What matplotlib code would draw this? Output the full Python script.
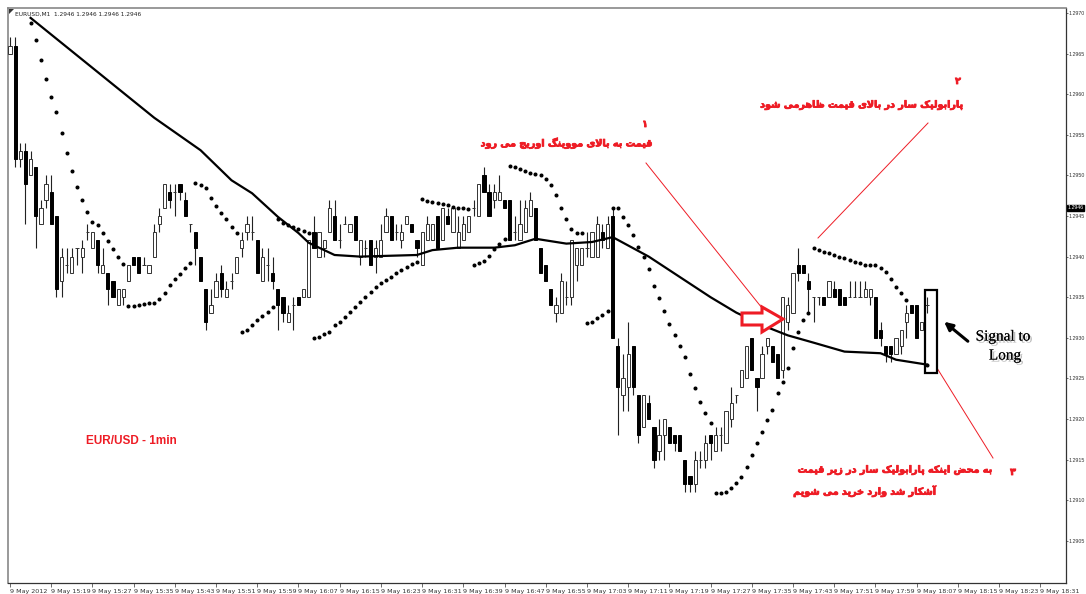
import numpy as np
import matplotlib
matplotlib.use("Agg")
import matplotlib.pyplot as plt
from matplotlib import patheffects as pe
from matplotlib.lines import Line2D
from matplotlib.patches import Polygon, Rectangle

nan = float("nan")

# EURUSD M1 candles, 9 May 2012 from 15:11 (one per minute)
opens = [
    1.2965, 1.2966, 1.2952, 1.2953, 1.2950, 1.2951, 1.2944, 1.2947, 1.2948, 1.2945,
    1.2937, 1.2939, 1.2938, 1.2941, 1.2940, 1.2943, 1.2941, 1.2942, 1.2938, 1.2938,
    1.2937, 1.2934, 1.2935, 1.2937, 1.2940, 1.2940, 1.2939, 1.2938, 1.2940, 1.2944,
    1.2946, 1.2948, 1.2948, 1.2949, 1.2947, 1.2944, 1.2943, 1.2940, 1.2936, 1.2933,
    1.2935, 1.2938, 1.2935, 1.2937, 1.2938, 1.2941, 1.2943, 1.2943, 1.2942, 1.2937,
    1.2939, 1.2938, 1.2936, 1.2935, 1.2932, 1.2934, 1.2935, 1.2935, 1.2935, 1.2943,
    1.2940, 1.2941, 1.2943, 1.2945, 1.2942, 1.2944, 1.2943, 1.2945, 1.2940, 1.2941,
    1.2942, 1.2940, 1.2940, 1.2943, 1.2945, 1.2943, 1.2942, 1.2944, 1.2944, 1.2942,
    1.2939, 1.2942, 1.2942, 1.2945, 1.2942, 1.2945, 1.2943, 1.2941, 1.2942, 1.2943,
    1.2946, 1.2945, 1.2950, 1.2948, 1.2947, 1.2947, 1.2947, 1.2947, 1.2943, 1.2942,
    1.2943, 1.2945, 1.2946, 1.2941, 1.2939, 1.2936, 1.2933, 1.2933, 1.2935, 1.2935,
    1.2939, 1.2939, 1.2941, 1.2940, 1.2940, 1.2943, 1.2941, 1.2945, 1.2929, 1.2923,
    1.2924, 1.2929, 1.2923, 1.2919, 1.2922, 1.2919, 1.2916, 1.2918, 1.2919, 1.2918,
    1.2918, 1.2915, 1.2913, 1.2912, 1.2915, 1.2915, 1.2918, 1.2916, 1.2918, 1.2917,
    1.2920, 1.2923, 1.2924, 1.2925, 1.2930, 1.2925, 1.2925, 1.2929, 1.2929, 1.2928,
    1.2926, 1.2932, 1.2933, 1.2939, 1.2939, 1.2937, 1.2935, 1.2935, 1.2935, 1.2935,
    1.2936, 1.2936, 1.2935, 1.2935, 1.2935, 1.2935, 1.2935, 1.2935, 1.2935, 1.2931,
    1.2929, 1.2929, 1.2928, 1.2929, 1.2932, 1.2934, 1.2934, 1.2931, 1.2934,
]
highs = [
    1.2967, 1.2967, 1.2954, 1.2954, 1.2953, 1.2951, 1.2947, 1.2950, 1.2950, 1.2945,
    1.2941, 1.2941, 1.2941, 1.2941, 1.2942, 1.2944, 1.2943, 1.2942, 1.2941, 1.2938,
    1.2937, 1.2936, 1.2936, 1.2939, 1.2940, 1.2940, 1.2940, 1.2939, 1.2944, 1.2946,
    1.2949, 1.2949, 1.2949, 1.2949, 1.2948, 1.2944, 1.2943, 1.2940, 1.2936, 1.2936,
    1.2938, 1.2939, 1.2937, 1.2938, 1.2940, 1.2943, 1.2945, 1.2945, 1.2942, 1.2941,
    1.2941, 1.2940, 1.2936, 1.2935, 1.2934, 1.2935, 1.2935, 1.2936, 1.2942, 1.2945,
    1.2943, 1.2942, 1.2947, 1.2947, 1.2944, 1.2945, 1.2944, 1.2945, 1.2942, 1.2942,
    1.2942, 1.2942, 1.2944, 1.2946, 1.2945, 1.2944, 1.2944, 1.2945, 1.2944, 1.2942,
    1.2943, 1.2945, 1.2944, 1.2945, 1.2946, 1.2946, 1.2946, 1.2945, 1.2945, 1.2945,
    1.2947, 1.2949, 1.2951, 1.2949, 1.2949, 1.2950, 1.2947, 1.2947, 1.2945, 1.2947,
    1.2947, 1.2948, 1.2946, 1.2941, 1.2939, 1.2936, 1.2935, 1.2938, 1.2937, 1.2942,
    1.2941, 1.2941, 1.2943, 1.2943, 1.2945, 1.2944, 1.2945, 1.2946, 1.2930, 1.2928,
    1.2932, 1.2929, 1.2923, 1.2923, 1.2923, 1.2919, 1.2920, 1.2920, 1.2919, 1.2918,
    1.2918, 1.2915, 1.2913, 1.2916, 1.2916, 1.2918, 1.2918, 1.2919, 1.2919, 1.2921,
    1.2924, 1.2923, 1.2926, 1.2929, 1.2930, 1.2925, 1.2929, 1.2930, 1.2929, 1.2928,
    1.2935, 1.2935, 1.2938, 1.2941, 1.2939, 1.2938, 1.2935, 1.2935, 1.2935, 1.2937,
    1.2937, 1.2936, 1.2935, 1.2937, 1.2937, 1.2937, 1.2937, 1.2936, 1.2935, 1.2932,
    1.2929, 1.2929, 1.2930, 1.2931, 1.2934, 1.2934, 1.2934, 1.2932, 1.2935,
]
lows = [
    1.2965, 1.2951, 1.2951, 1.2944, 1.2950, 1.2941, 1.2944, 1.2946, 1.2944, 1.2935,
    1.2935, 1.2938, 1.2938, 1.2939, 1.2938, 1.2942, 1.2941, 1.2938, 1.2938, 1.2934,
    1.2935, 1.2934, 1.2934, 1.2937, 1.2939, 1.2938, 1.2939, 1.2938, 1.2940, 1.2943,
    1.2946, 1.2946, 1.2945, 1.2947, 1.2945, 1.2943, 1.2939, 1.2937, 1.2931, 1.2933,
    1.2935, 1.2935, 1.2935, 1.2936, 1.2938, 1.2940, 1.2942, 1.2942, 1.2938, 1.2937,
    1.2937, 1.2936, 1.2931, 1.2932, 1.2932, 1.2931, 1.2934, 1.2935, 1.2935, 1.2941,
    1.2940, 1.2940, 1.2943, 1.2942, 1.2941, 1.2944, 1.2943, 1.2942, 1.2939, 1.2940,
    1.2939, 1.2938, 1.2940, 1.2943, 1.2942, 1.2942, 1.2941, 1.2944, 1.2943, 1.2940,
    1.2939, 1.2942, 1.2942, 1.2941, 1.2942, 1.2944, 1.2943, 1.2941, 1.2942, 1.2943,
    1.2945, 1.2945, 1.2948, 1.2945, 1.2946, 1.2947, 1.2946, 1.2942, 1.2942, 1.2942,
    1.2943, 1.2945, 1.2942, 1.2938, 1.2937, 1.2934, 1.2932, 1.2933, 1.2934, 1.2934,
    1.2937, 1.2939, 1.2940, 1.2940, 1.2940, 1.2941, 1.2941, 1.2930, 1.2918, 1.2921,
    1.2921, 1.2923, 1.2917, 1.2919, 1.2920, 1.2914, 1.2915, 1.2915, 1.2917, 1.2916,
    1.2916, 1.2911, 1.2911, 1.2911, 1.2914, 1.2914, 1.2915, 1.2916, 1.2916, 1.2917,
    1.2919, 1.2922, 1.2924, 1.2925, 1.2926, 1.2921, 1.2925, 1.2928, 1.2927, 1.2925,
    1.2925, 1.2931, 1.2933, 1.2937, 1.2938, 1.2933, 1.2932, 1.2934, 1.2934, 1.2935,
    1.2935, 1.2934, 1.2934, 1.2935, 1.2935, 1.2935, 1.2935, 1.2934, 1.2930, 1.2929,
    1.2927, 1.2927, 1.2928, 1.2928, 1.2930, 1.2933, 1.2930, 1.2931, 1.2933,
]
closes = [
    1.2966, 1.2952, 1.2953, 1.2949, 1.2952, 1.2945, 1.2946, 1.2949, 1.2944, 1.2936,
    1.2940, 1.2939, 1.2940, 1.2941, 1.2941, 1.2943, 1.2943, 1.2939, 1.2939, 1.2936,
    1.2935, 1.2936, 1.2936, 1.2939, 1.2939, 1.2938, 1.2939, 1.2939, 1.2943, 1.2945,
    1.2949, 1.2947, 1.2948, 1.2948, 1.2945, 1.2944, 1.2941, 1.2937, 1.2932, 1.2934,
    1.2937, 1.2936, 1.2936, 1.2937, 1.2940, 1.2942, 1.2944, 1.2943, 1.2938, 1.2940,
    1.2939, 1.2937, 1.2934, 1.2933, 1.2933, 1.2934, 1.2934, 1.2936, 1.2942, 1.2941,
    1.2943, 1.2942, 1.2946, 1.2942, 1.2942, 1.2944, 1.2944, 1.2942, 1.2942, 1.2941,
    1.2939, 1.2941, 1.2942, 1.2945, 1.2942, 1.2943, 1.2943, 1.2945, 1.2943, 1.2941,
    1.2943, 1.2944, 1.2944, 1.2941, 1.2946, 1.2944, 1.2946, 1.2943, 1.2944, 1.2945,
    1.2946, 1.2949, 1.2948, 1.2945, 1.2948, 1.2948, 1.2946, 1.2942, 1.2943, 1.2944,
    1.2946, 1.2947, 1.2942, 1.2938, 1.2937, 1.2934, 1.2934, 1.2937, 1.2935, 1.2942,
    1.2941, 1.2941, 1.2941, 1.2943, 1.2944, 1.2942, 1.2944, 1.2930, 1.2924, 1.2925,
    1.2928, 1.2924, 1.2918, 1.2923, 1.2920, 1.2915, 1.2918, 1.2920, 1.2917, 1.2917,
    1.2916, 1.2912, 1.2912, 1.2915, 1.2915, 1.2917, 1.2917, 1.2918, 1.2918, 1.2921,
    1.2922, 1.2923, 1.2926, 1.2929, 1.2926, 1.2924, 1.2928, 1.2930, 1.2927, 1.2925,
    1.2935, 1.2934, 1.2938, 1.2938, 1.2938, 1.2936, 1.2935, 1.2935, 1.2934, 1.2937,
    1.2935, 1.2934, 1.2934, 1.2935, 1.2935, 1.2935, 1.2936, 1.2936, 1.2930, 1.2930,
    1.2928, 1.2928, 1.2930, 1.2931, 1.2933, 1.2933, 1.2930, 1.2932, 1.2934,
]

# Parabolic SAR, one value per candle
sar = [
    nan, nan, nan, nan,
    1.29688, 1.29667, 1.29642, 1.29619, 1.29597, 1.29578, 1.29552, 1.29528, 1.29505, 1.29486,
    1.29470, 1.29455, 1.29443, 1.29439, 1.29429, 1.29419, 1.29409, 1.29400, 1.29391,
    1.29339, 1.29339, 1.29340, 1.29342, 1.29343, 1.29343, 1.29348, 1.29355, 1.29365, 1.29372,
    1.29379, 1.29386, 1.29392,
    1.29491, 1.29488, 1.29484, 1.29472, 1.29462, 1.29454, 1.29446, 1.29436, 1.29429,
    1.29307, 1.29310, 1.29316, 1.29322, 1.29327, 1.29332, 1.29338,
    1.29446, 1.29441, 1.29439, 1.29436, 1.29434, 1.29432, 1.29429,
    1.29300, 1.29301, 1.29305, 1.29307, 1.29316, 1.29319, 1.29326, 1.29332, 1.29338, 1.29344,
    1.29350, 1.29356, 1.29363, 1.29367, 1.29371, 1.29375, 1.29380, 1.29383, 1.29387, 1.29391,
    1.29393,
    1.29471, 1.29468, 1.29467, 1.29466, 1.29465, 1.29464, 1.29461, 1.29460, 1.29460, 1.29459,
    1.29390, 1.29392, 1.29395, 1.29401, 1.29409, 1.29416, 1.29422,
    1.29512, 1.29510, 1.29508, 1.29505, 1.29503, 1.29502, 1.29500, 1.29496, 1.29488, 1.29476,
    1.29460, 1.29446, 1.29434, 1.29429, 1.29429,
    1.29318, 1.29319, 1.29324, 1.29328, 1.29333,
    1.29460, 1.29460, 1.29449, 1.29439, 1.29427, 1.29412, 1.29400, 1.29385, 1.29364, 1.29349,
    1.29333, 1.29317, 1.29303, 1.29290, 1.29276, 1.29255, 1.29238, 1.29221, 1.29207, 1.29195,
    1.29109, 1.29109, 1.29110, 1.29115, 1.29121, 1.29129, 1.29141, 1.29156, 1.29170, 1.29184,
    1.29199, 1.29211, 1.29232, 1.29246, 1.29263, 1.29287, 1.29307, 1.29322, 1.29330,
    1.29411, 1.29408, 1.29406, 1.29404, 1.29402, 1.29400, 1.29398, 1.29396, 1.29393, 1.29392,
    1.29390, 1.29390, 1.29390, 1.29386, 1.29381, 1.29372, 1.29363, 1.29355, 1.29347,
    nan, nan, nan,
    1.29267,
]

# moving average, read at its turning points
ma_idx = [4, 28, 37, 43, 47, 52, 56, 58, 63, 68, 79, 82, 87, 94, 98, 102, 108, 113, 117,
          124, 130, 136, 141, 147, 151, 156, 162, 169, 172, 178]
ma_val = [1.29694, 1.29571, 1.29531, 1.29494, 1.29478, 1.29449, 1.29429, 1.29417, 1.29402,
          1.29400, 1.29402, 1.29408, 1.29411, 1.29411, 1.29414, 1.29422, 1.29416, 1.29418,
          1.29424, 1.29400, 1.29375, 1.29350, 1.29331, 1.29313, 1.29303, 1.29294, 1.29283,
          1.29281, 1.29273, 1.29267]

time_labels = ["9 May 2012", "9 May 15:19", "9 May 15:27", "9 May 15:35", "9 May 15:43",
               "9 May 15:51", "9 May 15:59", "9 May 16:07", "9 May 16:15", "9 May 16:23",
               "9 May 16:31", "9 May 16:39", "9 May 16:47", "9 May 16:55", "9 May 17:03",
               "9 May 17:11", "9 May 17:19", "9 May 17:27", "9 May 17:35", "9 May 17:43",
               "9 May 17:51", "9 May 17:59", "9 May 18:07", "9 May 18:15", "9 May 18:23",
               "9 May 18:31"]
price_ticks = [1.2970, 1.2965, 1.2960, 1.2955, 1.2950, 1.2945, 1.2940, 1.2935,
               1.2930, 1.2925, 1.2920, 1.2915, 1.2910, 1.2905]
last_price = 1.2946

note1 = "قیمت به بالای مووینگ اوریج می رود"
note2 = "پارابولیک سار در بالای قیمت ظاهرمی شود"
note3a = "به محض اینکه پارابولیک سار در زیر قیمت"
note3b = "آشکار شد وارد خرید می شویم"

# --- minimal Arabic/Persian shaping (matplotlib has no RTL layout) ---
FORMS = {
    "ا": ("\ufe8d", "\ufe8e", None, None), "آ": ("\ufe81", "\ufe82", None, None),
    "ب": ("\ufe8f", "\ufe90", "\ufe91", "\ufe92"), "پ": ("\ufb56", "\ufb57", "\ufb58", "\ufb59"),
    "ت": ("\ufe95", "\ufe96", "\ufe97", "\ufe98"), "ج": ("\ufe9d", "\ufe9e", "\ufe9f", "\ufea0"),
    "ح": ("\ufea1", "\ufea2", "\ufea3", "\ufea4"), "خ": ("\ufea5", "\ufea6", "\ufea7", "\ufea8"),
    "د": ("\ufea9", "\ufeaa", None, None), "ر": ("\ufead", "\ufeae", None, None),
    "ز": ("\ufeaf", "\ufeb0", None, None), "و": ("\ufeed", "\ufeee", None, None),
    "س": ("\ufeb1", "\ufeb2", "\ufeb3", "\ufeb4"), "ش": ("\ufeb5", "\ufeb6", "\ufeb7", "\ufeb8"),
    "ض": ("\ufebd", "\ufebe", "\ufebf", "\ufec0"), "ظ": ("\ufec5", "\ufec6", "\ufec7", "\ufec8"),
    "ق": ("\ufed5", "\ufed6", "\ufed7", "\ufed8"), "ک": ("\ufb8e", "\ufb8f", "\ufb90", "\ufb91"),
    "گ": ("\ufb92", "\ufb93", "\ufb94", "\ufb95"), "ل": ("\ufedd", "\ufede", "\ufedf", "\ufee0"),
    "م": ("\ufee1", "\ufee2", "\ufee3", "\ufee4"), "ن": ("\ufee5", "\ufee6", "\ufee7", "\ufee8"),
    "ه": ("\ufee9", "\ufeea", "\ufeeb", "\ufeec"), "ی": ("\ufbfc", "\ufbfd", "\ufbfe", "\ufbff"),
}


def shape(text):
    out = []
    i = 0
    n = len(text)
    while i < n:
        c = text[i]
        if c not in FORMS:
            out.append(c)
            i += 1
            continue
        prev = text[i - 1] if i > 0 else None
        jp = prev in FORMS and FORMS[prev][2] is not None
        if c == "ل" and i + 1 < n and text[i + 1] == "ا":
            out.append("\ufefc" if jp else "\ufefb")
            i += 2
            continue
        nxt = text[i + 1] if i + 1 < n else None
        jn = FORMS[c][2] is not None and nxt in FORMS
        iso, fin, ini, med = FORMS[c]
        if jp and jn:
            out.append(med)
        elif jp:
            out.append(fin)
        elif jn:
            out.append(ini)
        else:
            out.append(iso)
        i += 1
    return "".join(reversed(out))


W, H = 1086, 594


def fxy(px, py):
    return px / W, 1 - py / H


fig = plt.figure(figsize=(W / 100, H / 100), dpi=100)
ax = fig.add_axes([8 / W, 11 / H, 1058 / W, 575 / H])

idx = np.arange(len(opens))
o = np.array(opens)
h = np.array(highs)
l = np.array(lows)
c = np.array(closes)
up = c >= o

# wicks
ax.vlines(idx, l, h, color="#222222", lw=0.8, zorder=2)
# bodies
bw = 0.62
ax.bar(idx[up], c[up] - o[up], bottom=o[up], width=bw, color="white",
       edgecolor="#333333", linewidth=0.7, zorder=3)
ax.bar(idx[~up], o[~up] - c[~up], bottom=c[~up], width=bw, color="black",
       edgecolor="black", linewidth=0.7, zorder=3)

ax.plot(ma_idx, ma_val, color="black", lw=1.6, zorder=4)
ax.plot(idx, sar, linestyle="none", marker="o", markersize=1.9, color="black", zorder=5)

ax.set_xlim(-0.39, 205.0)
ax.set_ylim(1.28998, 1.297062)

ax.set_xticks(np.arange(0, 8 * len(time_labels), 8))
ax.set_xticklabels(time_labels, fontsize=4.6, color="#333333", ha="left")
ax.yaxis.tick_right()
ax.set_yticks(price_ticks)
ax.set_yticklabels([f"{p:.4f}" for p in price_ticks], fontsize=3.8,
                   family="Liberation Sans", color="#333333")
ax.tick_params(axis="x", length=3, width=0.6, pad=1, color="#555555")
ax.tick_params(axis="y", length=1.5, width=0.6, pad=0.6, color="#555555")

for s in ["left", "top"]:
    ax.spines[s].set_color("#888888")
    ax.spines[s].set_linewidth(1.2)
for s in ["right", "bottom"]:
    ax.spines[s].set_color("#333333")
    ax.spines[s].set_linewidth(0.9)

# current price tag on the price scale
ax.text(1.0012, last_price, f"{last_price:.4f}", transform=ax.get_yaxis_transform(),
        fontsize=3.8, family="Liberation Sans", color="white", va="center", ha="left",
        bbox=dict(boxstyle="square,pad=0.12", fc="black", ec="black"), zorder=6)

fig.text(*fxy(15, 14), "EURUSD,M1  1.2946 1.2946 1.2946 1.2946", fontsize=4.2,
         color="#222222", va="center")
fig.add_artist(Polygon([fxy(9, 9), fxy(14, 9), fxy(9, 14)], closed=True,
                       transform=fig.transFigure, fc="#333333", ec="none"))

# red annotations
red = "#ee1c25"
bold = [pe.withStroke(linewidth=0.6, foreground=red)]
tkw = dict(color=red, fontsize=6.9, family="DejaVu Sans", fontweight="bold",
           va="center", path_effects=bold)
fig.text(*fxy(645, 124), "۱", ha="center", **tkw)
fig.text(*fxy(567, 143), shape(note1), ha="center", **tkw)
fig.text(*fxy(958, 81), "۲", ha="center", **tkw)
fig.text(*fxy(862, 105), shape(note2), ha="center", **tkw)
fig.text(*fxy(1013, 472), "۳", ha="center", **tkw)
fig.text(*fxy(993, 470), shape(note3a), ha="right", **tkw)
fig.text(*fxy(937, 491), shape(note3b), ha="right", **tkw)
fig.text(*fxy(131, 441), "EUR/USD - 1min", color=red, fontsize=8.5,
         family="Liberation Sans", fontweight="bold", ha="center", va="center")

for (x0, y0), (x1, y1) in [((646, 163), (762, 308)), ((928, 123), (818, 238)),
                           ((937, 368), (993, 458))]:
    fig.add_artist(Line2D([x0 / W, x1 / W], [1 - y0 / H, 1 - y1 / H],
                          transform=fig.transFigure, color=red, lw=0.7))

arrow_pts = [(742, 313), (762, 313), (762, 307), (783, 319), (762, 332), (762, 325), (742, 325)]
fig.add_artist(Polygon([fxy(*p) for p in arrow_pts], closed=True, transform=fig.transFigure,
                       fc="white", ec=red, lw=2.2, zorder=7))

# box around the signal candle
bx0, by0 = fxy(925, 373)
bx1, by1 = fxy(937, 290)
fig.add_artist(Rectangle((bx0, by0), bx1 - bx0, by1 - by0, transform=fig.transFigure,
                         fill=False, ec="black", lw=1.6, zorder=7))

ax.annotate("", xy=fxy(942, 320), xytext=fxy(970, 343), xycoords="figure fraction",
            textcoords="figure fraction",
            arrowprops=dict(arrowstyle="-|>", color="black", lw=2.2, mutation_scale=12))
shadow = [pe.withSimplePatchShadow(offset=(1.5, -1.5), shadow_rgbFace="#777777", alpha=0.5),
          pe.Normal()]
fig.text(*fxy(1003, 337), "Signal to", fontsize=11, family="Liberation Serif",
         ha="center", va="center", path_effects=shadow)
fig.text(*fxy(1005, 356), "Long", fontsize=11, family="Liberation Serif",
         ha="center", va="center", path_effects=shadow)

fig.savefig("out.png", dpi=100)
